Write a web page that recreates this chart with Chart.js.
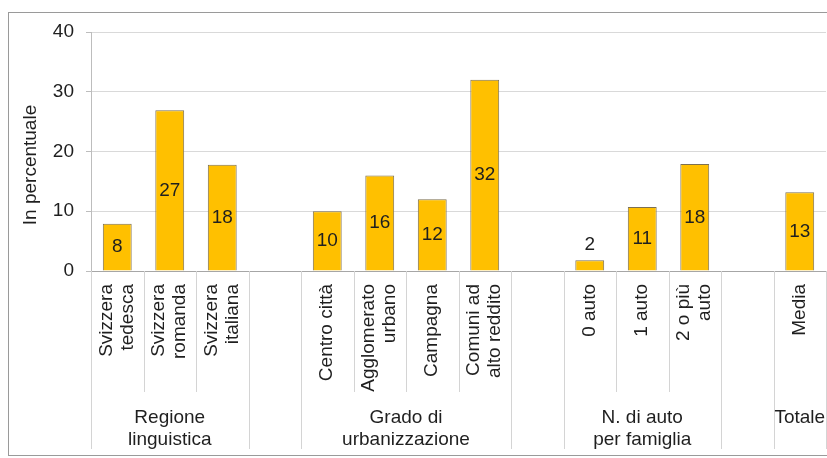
<!DOCTYPE html>
<html>
<head>
<meta charset="utf-8">
<script src="https://cdn.jsdelivr.net/npm/chart.js@4"></script>
<style>
  body { margin: 0; background: #fff; }
  #wrap { width: 827px; height: 458px; position: relative; }
</style>
</head>
<body>
<div id="wrap"><canvas id="barChart"></canvas></div>
<script>
// categories, with empty slots between the groups
const categories = [
    ['Svizzera', 'tedesca'], ['Svizzera', 'romanda'], ['Svizzera', 'italiana'], '',
    'Centro città', ['Agglomerato', 'urbano'], 'Campagna', ['Comuni ad', 'alto reddito'], '',
    '0 auto', '1 auto', ['2 o più', 'auto'], '',
    'Media'
];
const values = [7.9, 26.9, 17.8, null, 10, 16, 12, 32, null, 1.8, 10.7, 17.9, null, 13.2];

// second level of the category axis
const groupLabels = [['Regione', 'linguistica'], ['Grado di', 'urbanizzazione'], ['N. di auto', 'per famiglia'], ['Totale']];
const groupFirst = [0, 4, 9, 13];
const groupLast = [2, 7, 11, 13];

const yTicks = [0, 10, 20, 30, 40];
const yTitle = 'In percentuale';

const FONT = '"Liberation Sans", Arial, sans-serif';
const SIZE = 19;
const TEXT = '#1f1f1f';

Chart.defaults.font.family = FONT;
Chart.defaults.font.size = SIZE;
Chart.defaults.color = TEXT;

const axisLabels = {
    id: 'axisLabels',
    afterDraw(chart) {
        const ctx = chart.ctx;
        const x = chart.scales.x;
        const area = chart.chartArea;
        const n = categories.length;
        const slot = x.width / n;

        ctx.save();

        // outer frame
        ctx.strokeStyle = '#9a9a9a';
        ctx.lineWidth = 1;
        ctx.strokeRect(8.5, 12.5, 840, 443);

        // separators under the axis
        const full = new Set();
        groupFirst.forEach((f, g) => { full.add(f); full.add(groupLast[g] + 1); });
        ctx.strokeStyle = '#d4d4d4';
        for (let k = 0; k <= n; k++) {
            const px = Math.round(x.left + k * slot) + 0.5;
            ctx.beginPath();
            ctx.moveTo(px, area.bottom);
            ctx.lineTo(px, full.has(k) ? 449 : 392);
            ctx.stroke();
        }

        ctx.fillStyle = TEXT;
        ctx.font = SIZE + 'px ' + FONT;

        // rotated category names
        categories.forEach((label, i) => {
            if (!label) return;
            const lines = Array.isArray(label) ? label : [label];
            ctx.save();
            ctx.translate(x.getPixelForValue(i), area.bottom + 13);
            ctx.rotate(-Math.PI / 2);
            ctx.textAlign = 'right';
            ctx.textBaseline = 'middle';
            lines.forEach((line, j) => {
                ctx.fillText(line, 0, (j - (lines.length - 1) / 2) * 21);
            });
            ctx.restore();
        });

        // group names
        ctx.textAlign = 'center';
        ctx.textBaseline = 'alphabetic';
        groupLabels.forEach((lines, g) => {
            const cx = (x.getPixelForValue(groupFirst[g]) + x.getPixelForValue(groupLast[g])) / 2;
            lines.forEach((line, j) => ctx.fillText(line, cx, 423 + j * 22));
        });

        // y axis title
        ctx.save();
        ctx.translate(31, 165);
        ctx.rotate(-Math.PI / 2);
        ctx.textBaseline = 'middle';
        ctx.fillText(yTitle, 0, 0);
        ctx.restore();

        // value labels on the bars
        const meta = chart.getDatasetMeta(0);
        ctx.textBaseline = 'middle';
        meta.data.forEach((bar, i) => {
            const v = values[i];
            if (v === null) return;
            const h = bar.base - bar.y;
            const ly = h < 25 ? bar.y - 15 : (bar.y + bar.base) / 2;
            ctx.fillText(String(Math.round(v)), bar.x, ly);
        });

        ctx.restore();
    }
};

document.addEventListener('DOMContentLoaded', function() {
    const ctx = document.getElementById('barChart');

    new Chart(ctx, {
        type: 'bar',
        data: {
            labels: categories,
            datasets: [{
                data: values,
                backgroundColor: '#ffc000',
                borderColor: '#7d7050',
                borderWidth: 1,
                categoryPercentage: 1,
                barPercentage: 0.55
            }]
        },
        options: {
            responsive: true,
            maintainAspectRatio: false,
            animation: false,
            layout: {
                padding: { top: 32, right: 1, bottom: 0, left: 0 }
            },
            plugins: {
                legend: { display: false },
                tooltip: { enabled: false }
            },
            scales: {
                x: {
                    ticks: { display: false },
                    grid: { display: false },
                    border: { display: false },
                    afterFit(scale) { scale.height = 187; }
                },
                y: {
                    min: 0,
                    max: 40,
                    afterBuildTicks(scale) {
                        scale.ticks = yTicks.map(v => ({ value: v }));
                    },
                    ticks: { padding: 12, color: TEXT, font: { size: SIZE } },
                    grid: {
                        color: c => c.tick && c.tick.value === 0 ? '#a6a6a6' : '#d9d9d9',
                        tickLength: 5,
                        tickColor: '#bdbdbd'
                    },
                    border: { color: '#bdbdbd' },
                    afterFit(scale) { scale.width = 91; }
                }
            }
        },
        plugins: [axisLabels]
    });
});
</script>
</body>
</html>
